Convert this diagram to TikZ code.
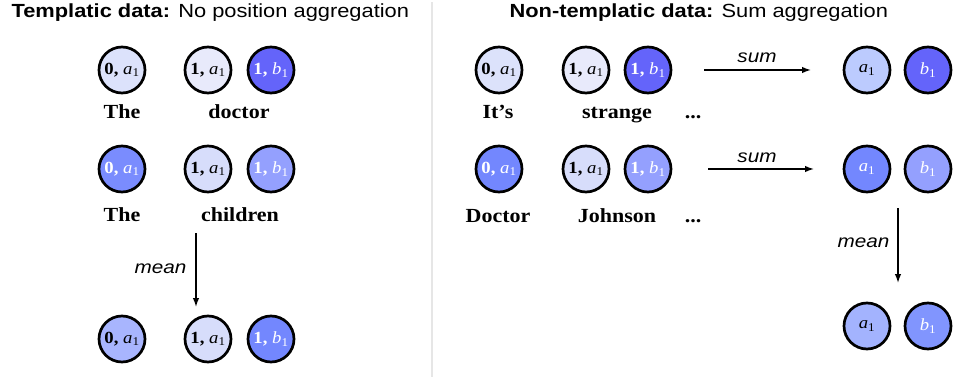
\documentclass[tikz,border=0pt]{standalone}
\usepackage{fontspec}
\setmainfont{Liberation Serif}
\setsansfont{Liberation Sans}
\newfontfamily\ttlfont[FakeStretch=1.15]{Liberation Sans}
\newfontfamily\wordfont[FakeStretch=1.1]{Liberation Serif}
\newfontfamily\blobfont[FakeStretch=1.1]{Liberation Serif}
\usetikzlibrary{arrows.meta}
\definecolor{cA}{HTML}{DCE2FB}
\definecolor{cB}{HTML}{E8EAFB}
\definecolor{cC}{HTML}{6464FA}
\definecolor{cD}{HTML}{7A8CFE}
\definecolor{cE}{HTML}{D7DDFB}
\definecolor{cF}{HTML}{94A0FE}
\definecolor{cG}{HTML}{A8B5FE}
\definecolor{cH}{HTML}{7387FE}
\definecolor{cI}{HTML}{BCCBFE}
\definecolor{cJ}{HTML}{A3B3FE}
\definecolor{cK}{HTML}{8195FE}
\definecolor{sepgray}{HTML}{E6E6E6}
\newcommand\tok[2]{\textbf{#1,} \textit{#2}\textsubscript{1}}
\newcommand\sym[1]{\textit{#1}\textsubscript{1}}
\begin{document}
\begin{tikzpicture}[x=1pt,y=-1pt,
  blob/.style={circle,draw=black,line width=2.7pt,minimum size=46pt,inner sep=0pt,font=\blobfont\fontsize{17}{19}\selectfont},
  wht/.style={text=white},
  word/.style={anchor=base,font=\wordfont\fontsize{20}{23}\selectfont\bfseries},
  ttl/.style={anchor=base west,font=\ttlfont\fontsize{19}{22}\selectfont},
  op/.style={anchor=base,font=\ttlfont\itshape\fontsize{18}{20}\selectfont},
  arr/.style={line width=1.4pt,-{Latex[length=9pt,width=6.5pt]}}]
\useasboundingbox (0,0) rectangle (956,377);
\draw[sepgray,line width=1.5pt] (432,2) -- (432,377);
% titles
\node[ttl] (t1) at (8,17.5) {\textbf{Templatic data:} No position aggregation};
\node[ttl] (t2) at (506,17.5) {\textbf{Non-templatic data:} Sum aggregation};
% left row 1
\node[blob,fill=cA] (l11) at (122,70) {\tok{0}{a}};
\node[blob,fill=cB] (l12) at (208,70) {\tok{1}{a}};
\node[blob,fill=cC,wht] (l13) at (271,70) {\tok{1}{b}};
\node[word] (w11) at (122,119) {The};
\node[word] (w12) at (239,119) {doctor};
% left row 2
\node[blob,fill=cD,wht] (l21) at (122,169) {\tok{0}{a}};
\node[blob,fill=cE] (l22) at (208,169) {\tok{1}{a}};
\node[blob,fill=cF,wht] (l23) at (271,169) {\tok{1}{b}};
\node[word] (w21) at (122,221) {The};
\node[word] (w22) at (240,221) {children};
% left mean arrow
\coordinate (ms1) at (196,233);
\coordinate (me1) at (196,307);
\draw[arr] (ms1) -- (me1);
\node[op,anchor=base east] (mean1) at (190,273) {mean};
% left row 3
\node[blob,fill=cG] (l31) at (122,339) {\tok{0}{a}};
\node[blob,fill=cE] (l32) at (208,339) {\tok{1}{a}};
\node[blob,fill=cH,wht] (l33) at (271,339) {\tok{1}{b}};
% right row 1
\node[blob,fill=cA] (r11) at (499,70) {\tok{0}{a}};
\node[blob,fill=cB] (r12) at (586,70) {\tok{1}{a}};
\node[blob,fill=cC,wht] (r13) at (648,70) {\tok{1}{b}};
\node[word] (v11) at (498,119) {It’s};
\node[word] (v12) at (617,119) {strange};
\node[word] (v13) at (693,119) {...};
\coordinate (ss1) at (704,70);
\coordinate (se1) at (811,70);
\draw[arr] (ss1) -- (se1);
\node[op] (sum1) at (757,63) {sum};
\node[blob,fill=cI] (q11) at (867,70) {\sym{a}};
\node[blob,fill=cC,wht] (q12) at (928,70) {\sym{b}};
% right row 2
\node[blob,fill=cH,wht] (r21) at (499,169) {\tok{0}{a}};
\node[blob,fill=cE] (r22) at (586,169) {\tok{1}{a}};
\node[blob,fill=cF,wht] (r23) at (648,169) {\tok{1}{b}};
\node[word] (v21) at (498,222) {Doctor};
\node[word] (v22) at (617,222) {Johnson};
\node[word] (v23) at (693,222) {...};
\coordinate (ss2) at (708,169);
\coordinate (se2) at (814,169);
\draw[arr] (ss2) -- (se2);
\node[op] (sum2) at (757,163) {sum};
\node[blob,fill=cH,wht] (q21) at (867,169) {\sym{a}};
\node[blob,fill=cF,wht] (q22) at (928,169) {\sym{b}};
% right mean arrow
\coordinate (ms2) at (898,208);
\coordinate (me2) at (898,283);
\draw[arr] (ms2) -- (me2);
\node[op,anchor=base east] (mean2) at (893,247) {mean};
% right row 3
\node[blob,fill=cJ] (q31) at (867,326) {\sym{a}};
\node[blob,fill=cK,wht] (q32) at (928,326) {\sym{b}};
\end{tikzpicture}
\end{document}
